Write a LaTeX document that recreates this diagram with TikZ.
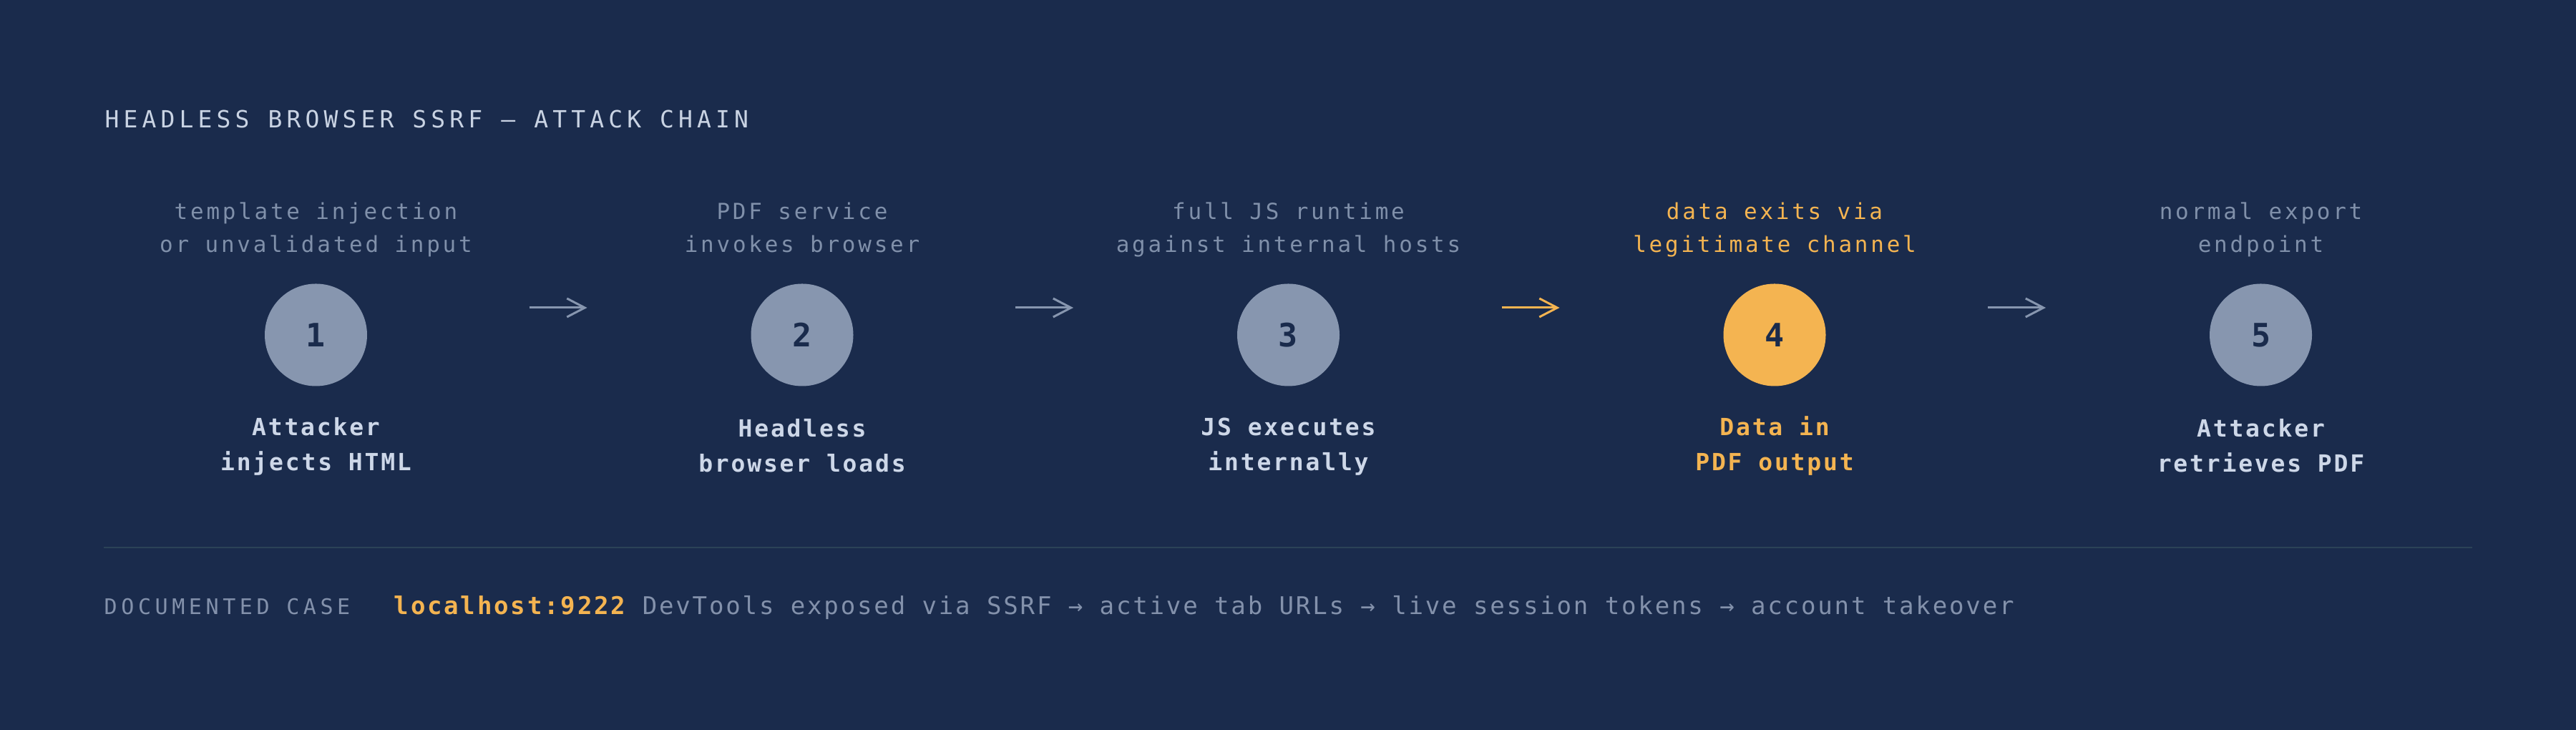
\documentclass[tikz,border=0pt]{standalone}
\usepackage{xcolor}
\usepackage{fontspec}
\usepackage{tikz}
\usetikzlibrary{positioning,calc,arrows.meta}

\newfontfamily\ttlfont[LetterSpace=18.5]{DejaVu Sans Mono}
\newfontfamily\hintfont[LetterSpace=12.2]{DejaVu Sans Mono}
\newfontfamily\stagefont[LetterSpace=8.5]{DejaVu Sans Mono}
\newfontfamily\kickerfont[LetterSpace=18.5]{DejaVu Sans Mono}
\newfontfamily\casefont[LetterSpace=8.2]{DejaVu Sans Mono}
\newfontfamily\digitfont{DejaVu Sans Mono}

\definecolor{chainbg}{HTML}{1A2B4C}
\definecolor{chaindot}{HTML}{8796AF}
\definecolor{chainhot}{HTML}{F4B451}
\definecolor{hinttext}{HTML}{8090AA}
\definecolor{stagetext}{HTML}{CDD7E8}
\definecolor{titletext}{HTML}{C9D3E3}
\definecolor{casetext}{HTML}{8391AB}
\definecolor{rulecol}{HTML}{2B4257}

\begin{document}
\begin{tikzpicture}[
  dot/.style={circle, fill=chaindot, minimum size=1.43cm, inner sep=0pt, outer sep=0pt,
    text=chainbg, font=\digitfont\bfseries\fontsize{12.8}{14}\selectfont},
  hotdot/.style={dot, fill=chainhot},
  hint/.style={align=center, inner sep=0pt, text depth=0pt, text=hinttext,
    font=\hintfont\fontsize{8.8}{13.1}\selectfont},
  hothint/.style={hint, text=chainhot},
  stage/.style={align=center, inner sep=0pt, text height=0pt, text=stagetext,
    font=\stagefont\bfseries\fontsize{9.4}{13.9}\selectfont},
  hotstage/.style={stage, text=chainhot},
  flow/.style={draw=chaindot, line width=0.85pt, -{Straight Barb[length=2.5mm,width=2.6mm]}},
  hotflow/.style={flow, draw=chainhot},
]
\fill[chainbg] (0,0) rectangle (36,10.2);
\useasboundingbox (0,0) rectangle (36,10.2);

\node[anchor=base west, inner sep=0pt, text=titletext,
  font=\ttlfont\fontsize{9.4}{11}\selectfont] (title) at (1.46,8.41)
  {HEADLESS BROWSER SSRF — ATTACK CHAIN};

% the five stages
\node[dot] (s1) at (4.415,5.52) {1};
\node[dot, right=5.365cm of s1] (s2) {2};
\node[dot, right=5.365cm of s2] (s3) {3};
\node[hotdot, right=5.365cm of s3] (s4) {4};
\node[dot, right=5.365cm of s4] (s5) {5};

\node[hint, above=0.43cm of s1] (h1) {template injection\\or unvalidated input};
\node[hint, above=0.43cm of s2] (h2) {PDF service\\invokes browser};
\node[hint, above=0.43cm of s3] (h3) {full JS runtime\\against internal hosts};
\node[hothint, above=0.43cm of s4] (h4) {data exits via\\legitimate channel};
\node[hint, above=0.43cm of s5] (h5) {normal export\\endpoint};

\node[stage, below=1.175cm of s1] (t1) {Attacker\\injects HTML};
\node[stage, below=1.175cm of s2] (t2) {Headless\\browser loads};
\node[stage, below=1.175cm of s3] (t3) {JS executes\\internally};
\node[hotstage, below=1.175cm of s4] (t4) {Data in\\PDF output};
\node[stage, below=1.175cm of s5] (t5) {Attacker\\retrieves PDF};

\draw[flow] ([shift={(2.265,0.38)}]s1.east) -- ([shift={(-2.29,0.38)}]s2.west);
\draw[flow] ([shift={(2.265,0.38)}]s2.east) -- ([shift={(-2.29,0.38)}]s3.west);
\draw[hotflow] ([shift={(2.265,0.38)}]s3.east) -- ([shift={(-2.29,0.38)}]s4.west);
\draw[flow] ([shift={(2.265,0.38)}]s4.east) -- ([shift={(-2.29,0.38)}]s5.west);

% documented case
\draw[rulecol, line width=0.7pt] (1.45,2.55) -- (34.55,2.55);
\node[anchor=base west, inner sep=0pt, text=casetext,
  font=\kickerfont\fontsize{8.55}{10}\selectfont] (kicker) at (1.45,1.61)
  {DOCUMENTED CASE};
\node[base right=0.6cm of kicker, inner sep=0pt, text=casetext,
  font=\casefont\fontsize{9.7}{11}\selectfont] (case)
  {\textcolor{chainhot}{\bfseries localhost:9222} DevTools exposed via SSRF → active tab URLs → live session tokens → account takeover};
\end{tikzpicture}
\end{document}
